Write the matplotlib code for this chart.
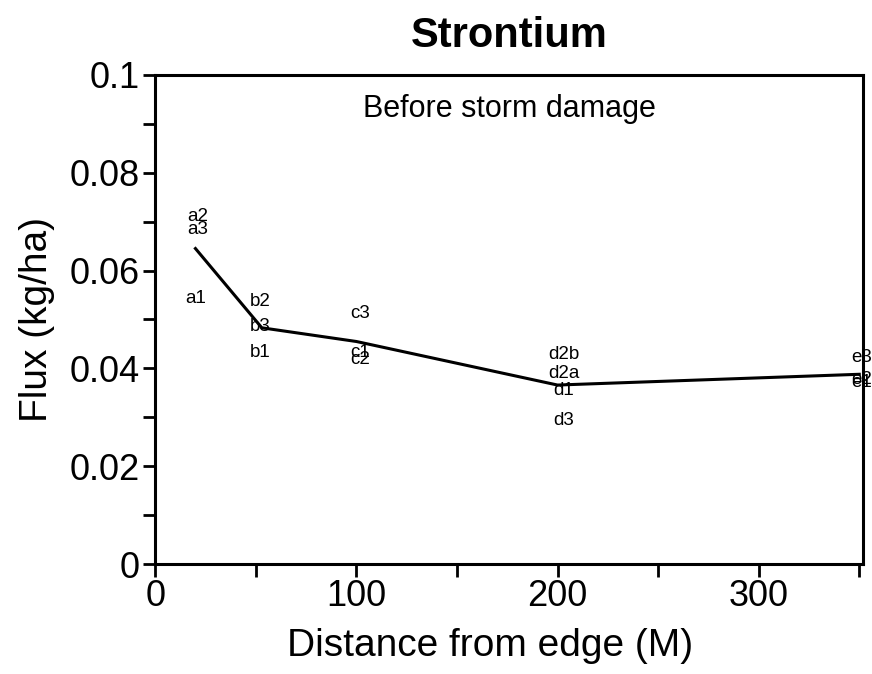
import matplotlib
matplotlib.use("Agg")
import matplotlib.pyplot as plt
from matplotlib.ticker import MultipleLocator

# individual plot labels (label, distance, flux)
labels = ["a2", "a3", "a1",
          "b2", "b3", "b1",
          "c3", "c1", "c2",
          "d2b", "d2a", "d1", "d3",
          "e3", "e1", "e2"]
label_x = [21, 21, 20,
           52, 52, 52,
           102, 102, 102,
           203, 203, 203, 203,
           351, 351, 351]
label_y = [0.0711, 0.0684, 0.0543,
           0.0537, 0.0486, 0.0432,
           0.0512, 0.0432, 0.0418,
           0.0428, 0.0389, 0.0355, 0.0293,
           0.0422, 0.0372, 0.0378]

# mean line
mean_x = [20, 53, 100, 200, 350]
mean_y = [0.0645, 0.0483, 0.0455, 0.0366, 0.0388]

plt.rcParams["font.family"] = ["Liberation Sans", "DejaVu Sans"]

fig = plt.figure(figsize=(8.72, 6.74), dpi=100)
ax = fig.add_axes([0.178, 0.163, 0.812, 0.726])

ax.plot(mean_x, mean_y, color="black", lw=2.2, zorder=2)
for lab, x, y in zip(labels, label_x, label_y):
    ax.text(x, y, lab, ha="center", va="center", fontsize=13.5, zorder=3,
            clip_on=False)

ax.set_xlim(0, 352)
ax.set_ylim(0, 0.1)
ax.xaxis.set_major_locator(MultipleLocator(100))
ax.xaxis.set_minor_locator(MultipleLocator(50))
ax.yaxis.set_minor_locator(MultipleLocator(0.01))
ax.set_yticks([0, 0.02, 0.04, 0.06, 0.08, 0.1])
ax.set_yticklabels(["0", "0.02", "0.04", "0.06", "0.08", "0.1"])

ax.tick_params(which="both", direction="out", width=2, length=9,
               labelsize=26, pad=2)
for s in ax.spines.values():
    s.set_linewidth(2.2)

ax.set_xlabel("Distance from edge (M)", fontsize=28)
ax.xaxis.set_label_coords(0.473, -0.13)
ax.set_ylabel("Flux (kg/ha)", fontsize=28)
ax.yaxis.set_label_coords(-0.142, 0.5)
ax.set_title("Strontium", fontsize=30, fontweight="bold", pad=20)
ax.text(0.5, 0.93, "Before storm damage", transform=ax.transAxes,
        ha="center", va="center", fontsize=22)

fig.savefig("out.png", dpi=100)
